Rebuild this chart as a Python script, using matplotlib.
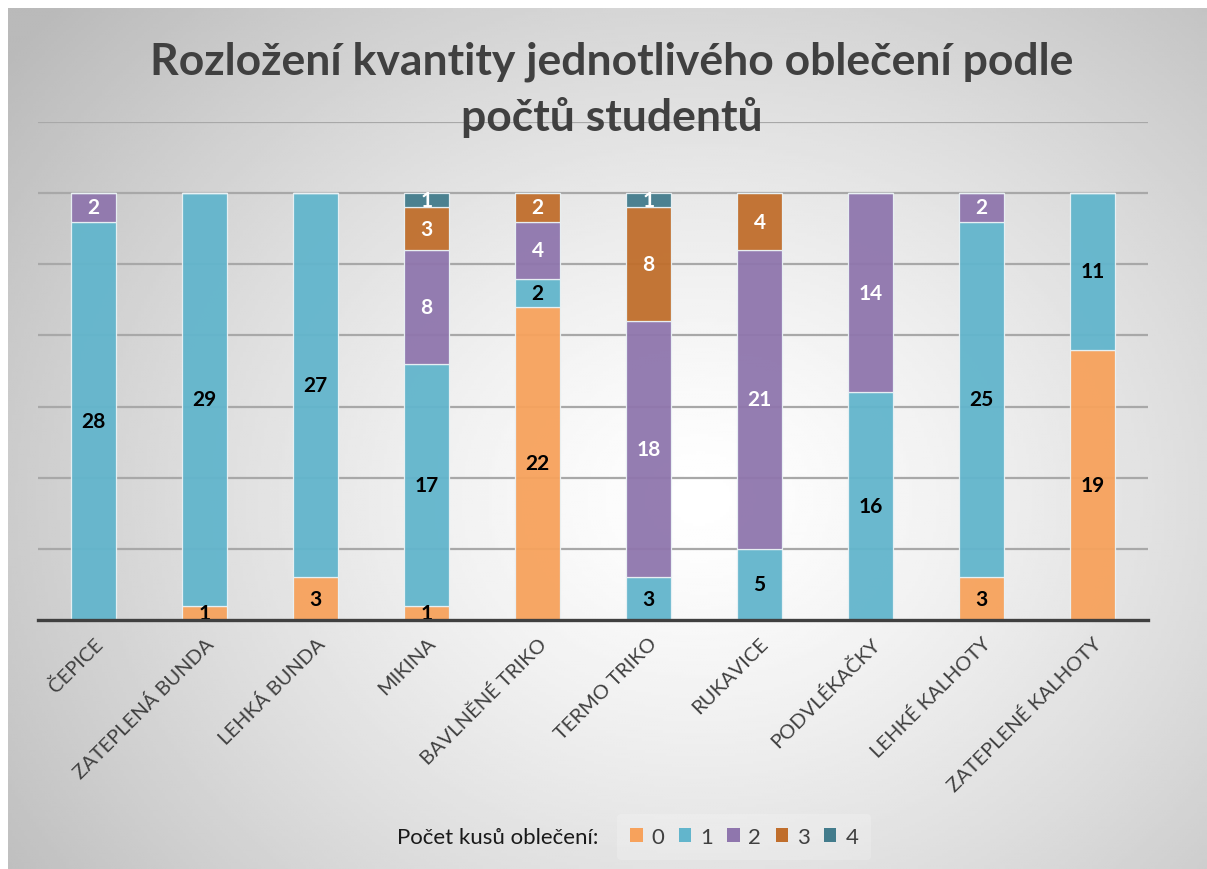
import numpy as np
import matplotlib
matplotlib.use("Agg")
import matplotlib.pyplot as plt
from matplotlib.patches import Patch

CATEGORIES = [
    "ČEPICE",
    "ZATEPLENÁ BUNDA",
    "LEHKÁ BUNDA",
    "MIKINA",
    "BAVLNĚNÉ TRIKO",
    "TERMO TRIKO",
    "RUKAVICE",
    "PODVLÉKAČKY",
    "LEHKÉ KALHOTY",
    "ZATEPLENÉ KALHOTY",
]

SERIES_NAMES = ["0", "1", "2", "3", "4"]

COUNT_0 = [0, 1, 3, 1, 22, 0, 0, 0, 3, 19]
COUNT_1 = [28, 29, 27, 17, 2, 3, 5, 16, 25, 11]
COUNT_2 = [2, 0, 0, 8, 4, 18, 21, 14, 2, 0]
COUNT_3 = [0, 0, 0, 3, 2, 8, 4, 0, 0, 0]
COUNT_4 = [0, 0, 0, 1, 0, 1, 0, 0, 0, 0]

TITLE_LINES = ["Rozložení kvantity jednotlivého oblečení podle", "počtů studentů"]
LEGEND_LABEL = "Počet kusů oblečení:"

COLORS = ["#F7A25C", "#62B5CC", "#8F76AD", "#C06E2C", "#437C8C"]
LABEL_COLORS = ["black", "black", "white", "white", "white"]

FONT = ["Lato", "DejaVu Sans"]
TEXT_GRAY = "#404040"

W, H = 1207, 870


def draw_background(fig):
    bg = fig.add_axes([8 / W, 0, 1 - 8 / W, 1 - 9 / H], zorder=-10)
    xs = np.linspace(8, W, 400)
    ys = np.linspace(9, H, 300)
    X, Y = np.meshgrid(xs, ys)
    cx, cy, rx, ry = 700, 500, 760, 640
    r = np.sqrt(((X - cx) / rx) ** 2 + ((Y - cy) / ry) ** 2)
    val = 255 - 58 * np.clip(r, 0, 1.15) ** 1.3
    val = np.clip(val, 0, 255) / 255
    bg.imshow(val, cmap="gray", vmin=0, vmax=1, aspect="auto",
              extent=[0, 1, 0, 1], interpolation="bilinear")
    bg.axis("off")


def main():
    plt.rcParams["font.family"] = FONT
    fig = plt.figure(figsize=(W / 100, H / 100), dpi=100)
    fig.patch.set_facecolor("white")
    draw_background(fig)

    ax = fig.add_axes([38 / W, 1 - 621 / H, 1110 / W, 498 / H])
    ax.set_facecolor("none")

    series = [COUNT_0, COUNT_1, COUNT_2, COUNT_3, COUNT_4]
    x = np.arange(len(CATEGORIES))
    bottom = np.zeros(len(CATEGORIES))
    for vals, color, lc in zip(series, COLORS, LABEL_COLORS):
        vals = np.array(vals, dtype=float)
        ax.bar(x, vals, bottom=bottom, width=0.4, color=color, alpha=0.95,
               edgecolor="#EAF2F5", linewidth=0.9, zorder=3)
        for xi, v, b in zip(x, vals, bottom):
            if v > 0:
                ax.text(xi, b + v / 2, f"{int(v)}", ha="center", va="center",
                        fontsize=15, fontweight="bold", color=lc, zorder=4)
        bottom += vals

    ax.set_xlim(-0.5, len(CATEGORIES) - 0.5)
    ax.set_ylim(0, 35)
    ax.set_yticks(np.arange(5, 36, 5))
    ax.yaxis.grid(True, color="#A8A8A8", linewidth=1.6, zorder=0)
    ax.set_axisbelow(True)
    ax.tick_params(axis="y", left=False, labelleft=False)
    ax.tick_params(axis="x", length=0, pad=10)
    ax.set_xticks(x)
    ax.set_xticklabels(CATEGORIES, rotation=45, ha="right",
                       rotation_mode="anchor", fontsize=14.5, color=TEXT_GRAY)
    for side in ["top", "right", "left"]:
        ax.spines[side].set_visible(False)
    ax.spines["bottom"].set_color("#404040")
    ax.spines["bottom"].set_linewidth(2.4)
    ax.spines["bottom"].set_zorder(5)

    for line, ypix in zip(TITLE_LINES, [62, 118]):
        fig.text(612 / W, 1 - ypix / H, line, ha="center", va="center",
                 fontsize=32, fontweight="bold", color=TEXT_GRAY)

    fig.text(598 / W, 1 - 838 / H, LEGEND_LABEL, ha="right", va="center",
             fontsize=16, color="#1A1A1A")
    handles = [Patch(facecolor=c, edgecolor="none") for c in COLORS]
    leg = fig.legend(handles, SERIES_NAMES, loc="center left",
                     bbox_to_anchor=(606 / W, 1 - 838 / H), ncol=5,
                     fontsize=16, frameon=True, handlelength=0.55,
                     handleheight=0.55, handletextpad=0.4, columnspacing=0.65,
                     borderpad=0.6)
    leg.get_frame().set_facecolor("white")
    leg.get_frame().set_alpha(0.2)
    leg.get_frame().set_edgecolor("none")
    for t in leg.get_texts():
        t.set_color(TEXT_GRAY)

    fig.savefig("out.png", dpi=100)
    plt.close(fig)


if __name__ == "__main__":
    main()
